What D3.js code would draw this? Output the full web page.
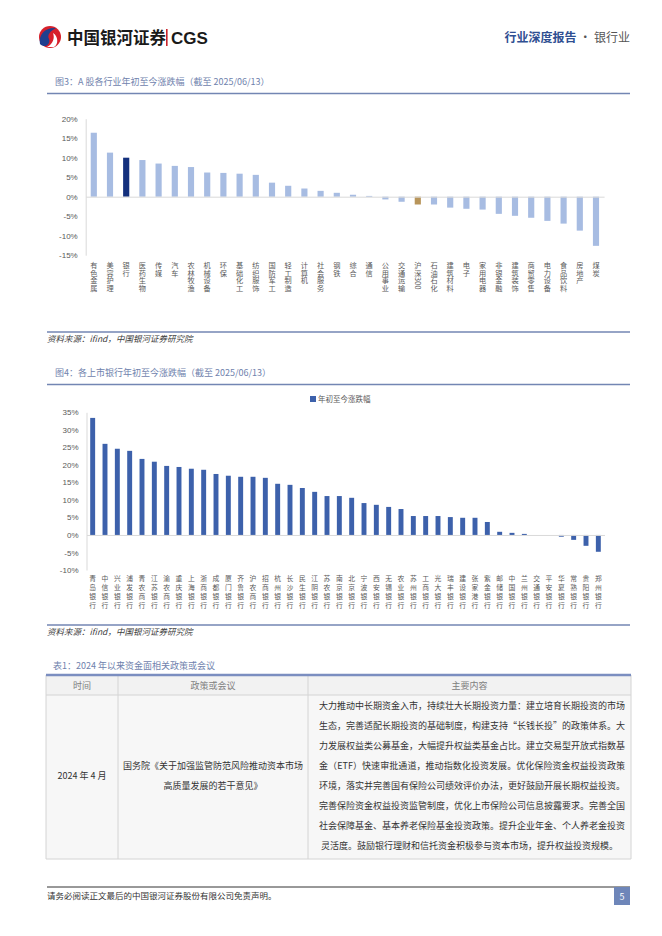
<!DOCTYPE html>
<html><head><meta charset="utf-8">
<script src="https://cdn.jsdelivr.net/npm/d3@7"></script>
<style>
html,body{margin:0;padding:0;background:#fff;}
svg{display:block;font-family:"Noto Sans CJK SC","Noto Sans",sans-serif;}
</style></head>
<body>
<svg id="c" width="662" height="936"></svg>
<script>
// ---------- data ----------
const industries = ["有色金属","美容护理","银行","医药生物","传媒","汽车","农林牧渔","机械设备","环保","基础化工","纺织服饰","国防军工","轻工制造","计算机","社会服务","钢铁","综合","通信","公用事业","交通运输","沪深300","石油石化","建筑材料","电子","家用电器","非银金融","建筑装饰","商贸零售","电力设备","食品饮料","房地产","煤炭"];
const industryChange = [16.4,11.3,10.0,9.4,8.5,7.9,7.6,6.2,6.1,5.9,5.6,3.6,2.8,2.1,1.5,1.0,0.5,0.2,-0.7,-1.3,-2.0,-2.0,-2.8,-3.1,-3.3,-4.4,-4.9,-5.4,-6.2,-6.9,-8.7,-12.6];
const industryTicks = [20,15,10,5,0,-5,-10,-15];

const banks = ["青岛银行","中信银行","兴业银行","浦发银行","青农商行","江苏银行","渝农商行","重庆银行","上海银行","浙商银行","成都银行","厦门银行","齐鲁银行","沪农商行","招商银行","杭州银行","长沙银行","民生银行","江阴银行","苏农银行","南京银行","北京银行","宁波银行","西安银行","无锡银行","农业银行","苏州银行","工商银行","光大银行","瑞丰银行","建设银行","张家港行","紫金银行","邮储银行","中国银行","兰州银行","交通银行","平安银行","华夏银行","常熟银行","贵阳银行","郑州银行"];
const bankChange = [33.4,26.0,24.6,24.0,21.7,20.9,19.7,19.4,18.9,18.6,17.4,16.9,16.6,16.6,16.3,14.6,14.3,13.4,12.3,11.1,11.1,10.6,9.1,8.6,8.0,7.4,5.4,5.4,5.4,5.1,4.9,4.9,3.7,0.9,0.6,0.3,0.0,0.0,-0.5,-1.4,-3.1,-4.8];
const bankTicks = [35,30,25,20,15,10,5,0,-5,-10];
const bankSeriesName = "年初至今涨跌幅";

const tableHeaders = ["时间","政策或会议","主要内容"];
const tableDate = "2024 年 4 月";
const tablePolicy = ["国务院《关于加强监管防范风险推动资本市场","高质量发展的若干意见》"];
const tableContent = [
"大力推动中长期资金入市，持续壮大长期投资力量：建立培育长期投资的市场",
"生态，完善适配长期投资的基础制度，构建支持“长钱长投”的政策体系。大",
"力发展权益类公募基金，大幅提升权益类基金占比。建立交易型开放式指数基",
"金（ETF）快速审批通道，推动指数化投资发展。优化保险资金权益投资政策",
"环境，落实并完善国有保险公司绩效评价办法，更好鼓励开展长期权益投资。",
"完善保险资金权益投资监管制度，优化上市保险公司信息披露要求。完善全国",
"社会保障基金、基本养老保险基金投资政策。提升企业年金、个人养老金投资",
"灵活度。鼓励银行理财和信托资金积极参与资本市场，提升权益投资规模。"];

// ---------- drawing ----------
const svg = d3.select("#c");
svg.append("rect").attr("width",662).attr("height",936).attr("fill","#fff");

const titleColor = "#6f82ad", ruleColor = "#7386b3", tickColor = "#595959";

// header
const logo = svg.append("g");
logo.append("circle").attr("cx",50).attr("cy",37).attr("r",11).attr("fill","#d7202b");
logo.append("path").attr("d","M40,44 C38,34 46,27 56,28 C50,31 47,35 49,39 C51,44 45,49 40,44 Z").attr("fill","#1f3f8e");
logo.append("path").attr("d","M47,47 C53,44 55,38 53,33 C58,36 59,44 54,47 Z").attr("fill","#fff");
svg.append("text").attr("x",67).attr("y",43.5).attr("font-size",16.5).attr("font-weight",700).attr("fill","#1a1a1a").text("中国银河证券");
svg.append("rect").attr("x",166).attr("y",29).attr("width",1.6).attr("height",17).attr("fill","#c9242b");
svg.append("text").attr("x",171).attr("y",43.5).attr("font-size",17).attr("font-weight",700).attr("font-family","Liberation Sans, Arial, sans-serif").attr("fill","#1a1a1a").text("CGS");
const ht = svg.append("text").attr("x",630).attr("y",42).attr("font-size",12).attr("text-anchor","end");
ht.append("tspan").attr("fill","#2f4f92").attr("font-weight",700).text("行业深度报告");
ht.append("tspan").attr("fill","#555").text(" · 银行业");

function caption(y, txt){
  svg.append("text").attr("x",55).attr("y",y).attr("font-size",9).attr("fill",titleColor).text(txt);
  svg.append("line").attr("x1",47).attr("x2",630).attr("y1",y+8.5).attr("y2",y+8.5).attr("stroke",ruleColor).attr("stroke-width",1.3);
}
function source(y){
  svg.append("line").attr("x1",47).attr("x2",630).attr("y1",y-10).attr("y2",y-10).attr("stroke",ruleColor).attr("stroke-width",1.3);
  svg.append("text").attr("x",47).attr("y",y).attr("font-size",8.5).attr("font-style","italic").attr("fill","#404040").text("资料来源：ifind，中国银河证券研究院");
}

function barChart(o){
  const x = d3.scaleBand().domain(o.cats).range(o.xr).paddingInner(o.pad).paddingOuter(o.pad/2);
  const y = d3.scaleLinear().domain(o.yd).range(o.yr);
  const g = svg.append("g");
  const ya = g.append("g").attr("transform",`translate(${o.xr[0]},0)`)
    .call(d3.axisLeft(y).tickValues(o.ticks).tickSize(0).tickPadding(8).tickFormat(d=>d+"%"));
  ya.select(".domain").attr("stroke","#d9d9d9");
  ya.selectAll("text").attr("font-size",8).attr("fill",tickColor).attr("font-family","Liberation Sans, Arial, sans-serif");
  g.selectAll("rect.b").data(o.vals).enter().append("rect")
    .attr("x",(d,i)=>x(o.cats[i]))
    .attr("width",x.bandwidth())
    .attr("y",d=>y(Math.max(0,d)))
    .attr("height",d=>Math.abs(y(d)-y(0)))
    .attr("fill",(d,i)=>o.color(i));
  const xa = g.append("g").attr("transform",`translate(0,${y(0)})`)
    .call(d3.axisBottom(x).tickSize(0).tickFormat(""));
  xa.select(".domain").attr("stroke","#d9d9d9");
  // vertical category labels (one text per label, vertical writing mode)
  g.selectAll("text.lab").data(o.cats).enter().append("text")
    .attr("class","lab")
    .attr("x",d=>x(d)+x.bandwidth()/2)
    .attr("y",o.labY)
    .attr("font-size",o.labSize)
    .attr("fill",tickColor)
    .style("writing-mode","vertical-rl")
    .style("letter-spacing",o.ls+"px")
    .text(d=>d);
  return {x,y};
}

// Figure 3
caption(85,"图3：A 股各行业年初至今涨跌幅（截至 2025/06/13）");
barChart({cats:industries, vals:industryChange, ticks:industryTicks,
  xr:[85.7,604.1], yd:[-15,20], yr:[255.2,118.7], pad:0.62,
  color:i=> industries[i]==="银行" ? "#14307d" : (industries[i]==="沪深300" ? "#b8955a" : "#a7bce2"),
  labY:262, labSize:7.2, ls:0.3});
source(342);

// Figure 4
caption(376,"图4：各上市银行年初至今涨跌幅（截至 2025/06/13）");
barChart({cats:banks, vals:bankChange, ticks:bankTicks,
  xr:[86.5,604.5], yd:[-10,35], yr:[570,412.3], pad:0.6,
  color:()=>"#3d61ab", labY:575, labSize:6.8, ls:2.2});
svg.append("rect").attr("x",310).attr("y",396).attr("width",6).attr("height",6).attr("fill","#3d61ab");
svg.append("text").attr("x",318).attr("y",402).attr("font-size",7.5).attr("fill",tickColor).text(bankSeriesName);
source(635);

// Table
svg.append("text").attr("x",53).attr("y",669).attr("font-size",9).attr("fill",titleColor).text("表1：2024 年以来资金面相关政策或会议");
const colX = [46,118,308,631];
const tTop = 675, hBot = 695, tBot = 859;
svg.append("rect").attr("x",46).attr("y",tTop).attr("width",585).attr("height",hBot-tTop).attr("fill","#f2f2f2");
svg.append("rect").attr("x",46).attr("y",hBot).attr("width",585).attr("height",tBot-hBot).attr("fill","#f7f7f7");
colX.forEach(cx=>svg.append("line").attr("x1",cx).attr("x2",cx).attr("y1",tTop).attr("y2",tBot).attr("stroke","#d4d4d4"));
[hBot,tBot].forEach(yy=>svg.append("line").attr("x1",46).attr("x2",631).attr("y1",yy).attr("y2",yy).attr("stroke","#d4d4d4"));
svg.append("line").attr("x1",46).attr("x2",631).attr("y1",tTop).attr("y2",tTop).attr("stroke","#7b8ec0").attr("stroke-width",2.5);
tableHeaders.forEach((h,i)=>svg.append("text").attr("x",(colX[i]+colX[i+1])/2).attr("y",688.5)
  .attr("text-anchor","middle").attr("font-size",9).attr("fill","#808080").text(h));
svg.append("text").attr("x",82).attr("y",778.5).attr("text-anchor","middle").attr("font-size",9).attr("fill","#333").text(tableDate);
tablePolicy.forEach((t,i)=>svg.append("text").attr("x",213).attr("y",768.5+i*20).attr("text-anchor","middle").attr("font-size",9).attr("fill","#333").text(t));
tableContent.forEach((t,i)=>{
  const tx = svg.append("text").attr("x",i<7?319:469.5).attr("y",708.5+i*20)
    .attr("text-anchor",i<7?"start":"middle").attr("font-size",9).attr("fill","#333").text(t);
  if(i<7) tx.attr("textLength",306).attr("lengthAdjust","spacing");
});

// footer
svg.append("line").attr("x1",47).attr("x2",630).attr("y1",887).attr("y2",887).attr("stroke","#333").attr("stroke-width",1);
svg.append("text").attr("x",47).attr("y",899).attr("font-size",8.5).attr("fill","#333").text("请务必阅读正文最后的中国银河证券股份有限公司免责声明。");
svg.append("rect").attr("x",614).attr("y",887).attr("width",16).attr("height",18).attr("fill","#6e86b9");
svg.append("text").attr("x",622).attr("y",899.5).attr("text-anchor","middle").attr("font-size",9).attr("fill","#fff").text("5");
</script>
</body></html>
